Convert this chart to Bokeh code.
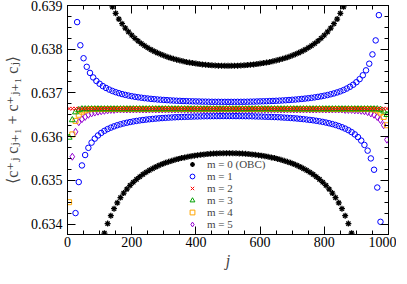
from bokeh.plotting import figure
from bokeh.models import (LinearAxis, FixedTicker, PrintfTickFormatter, Range1d,
                          Legend, LegendItem, CustomLabelingPolicy)
from bokeh.embed import file_html
from bokeh.resources import INLINE

# ---------------- data ----------------
j_obc = list(range(115, 890, 5))
obc = [
    0.63379, 0.63933, 0.63401, 0.63914, 0.63419, 0.63897, 0.63435, 0.63882, 0.634485, 0.63869,
    0.634604, 0.638583, 0.634708, 0.638484, 0.6348, 0.638397, 0.634883, 0.63832, 0.634956, 0.63825,
    0.635022, 0.638187, 0.635082, 0.63813, 0.635136, 0.63808, 0.635184, 0.638033, 0.635229, 0.63799,
    0.635269, 0.637952, 0.635306, 0.637917, 0.63534, 0.637884, 0.635371, 0.637855, 0.635399, 0.637828,
    0.635425, 0.637803, 0.635448, 0.637781, 0.63547, 0.63776, 0.63549, 0.637741, 0.635508, 0.637724,
    0.635524, 0.637708, 0.635539, 0.637694, 0.635552, 0.637682, 0.635564, 0.63767, 0.635575, 0.63766,
    0.635584, 0.637651, 0.635593, 0.637644, 0.6356, 0.637637, 0.635606, 0.637631, 0.635611, 0.637627,
    0.635615, 0.637623, 0.635618, 0.637621, 0.63562, 0.63762, 0.635621, 0.637619, 0.635621, 0.63762,
    0.63562, 0.637621, 0.635618, 0.637623, 0.635615, 0.637627, 0.635611, 0.637631, 0.635606, 0.637637,
    0.6356, 0.637644, 0.635593, 0.637651, 0.635584, 0.63766, 0.635575, 0.63767, 0.635564, 0.637682,
    0.635552, 0.637694, 0.635539, 0.637708, 0.635524, 0.637724, 0.635508, 0.637741, 0.63549, 0.63776,
    0.63547, 0.637781, 0.635448, 0.637803, 0.635425, 0.637828, 0.635399, 0.637855, 0.635371, 0.637884,
    0.63534, 0.637917, 0.635306, 0.637952, 0.635269, 0.63799, 0.635229, 0.638033, 0.635184, 0.63808,
    0.635136, 0.63813, 0.635082, 0.638187, 0.635022, 0.63825, 0.634956, 0.63832, 0.634883, 0.638397,
    0.6348, 0.638484, 0.634708, 0.638583, 0.634604, 0.63869, 0.634485, 0.63882, 0.63435, 0.63897,
    0.63419, 0.63914, 0.63401, 0.63933, 0.63379,
]

j_m1 = list(range(25, 980, 5))
m1 = [
    0.63425, 0.63862, 0.63496, 0.63809, 0.63534, 0.637793, 0.635579, 0.637597, 0.635743, 0.637458,
    0.635862, 0.637354, 0.635954, 0.637273, 0.636026, 0.637209, 0.636084, 0.637156, 0.636132, 0.637113,
    0.636172, 0.637076, 0.636205, 0.637044, 0.636234, 0.637017, 0.63626, 0.636994, 0.636282, 0.636973,
    0.636301, 0.636955, 0.636318, 0.636939, 0.636333, 0.636925, 0.636347, 0.636912, 0.636359, 0.6369,
    0.63637, 0.63689, 0.63638, 0.63688, 0.636389, 0.636872, 0.636397, 0.636864, 0.636405, 0.636857,
    0.636412, 0.63685, 0.636418, 0.636844, 0.636424, 0.636839, 0.636429, 0.636834, 0.636434, 0.636829,
    0.636438, 0.636825, 0.636442, 0.636821, 0.636446, 0.636818, 0.636449, 0.636814, 0.636452, 0.636812,
    0.636455, 0.636809, 0.636457, 0.636807, 0.63646, 0.636805, 0.636461, 0.636803, 0.636463, 0.636801,
    0.636465, 0.6368, 0.636466, 0.636798, 0.636467, 0.636797, 0.636468, 0.636796, 0.636469, 0.636796,
    0.636469, 0.636795, 0.63647, 0.636795, 0.63647, 0.636795, 0.63647, 0.636795, 0.63647, 0.636795,
    0.636469, 0.636796, 0.636469, 0.636796, 0.636468, 0.636797, 0.636467, 0.636798, 0.636466, 0.6368,
    0.636465, 0.636801, 0.636462, 0.636804, 0.63646, 0.636806, 0.636459, 0.636808, 0.636456, 0.63681,
    0.636454, 0.636813, 0.636451, 0.636816, 0.636447, 0.63682, 0.636444, 0.636823, 0.63644, 0.636827,
    0.636435, 0.636832, 0.636431, 0.636837, 0.636426, 0.636843, 0.63642, 0.636848, 0.636414, 0.636855,
    0.636407, 0.636862, 0.6364, 0.63687, 0.636391, 0.636878, 0.636382, 0.636887, 0.636373, 0.636898,
    0.636362, 0.636909, 0.63635, 0.636922, 0.636337, 0.636936, 0.636322, 0.636951, 0.636305, 0.636969,
    0.636287, 0.636988, 0.636266, 0.637011, 0.636242, 0.637036, 0.636214, 0.637065, 0.636183, 0.6371,
    0.636147, 0.637141, 0.636103, 0.637187, 0.636051, 0.637245, 0.635988, 0.637315, 0.635909, 0.637403,
    0.635809, 0.637516, 0.635679, 0.637668, 0.635501, 0.637881, 0.635242, 0.638201, 0.634835, 0.63878,
    0.63405,
]

j_m = list(range(5, 1000, 10))
m2 = [
    0.63664, 0.63664, 0.63664, 0.63664, 0.63664, 0.63664, 0.63664, 0.63664, 0.63664, 0.63664,
    0.63664, 0.63664, 0.63664, 0.63664, 0.63664, 0.63664, 0.63664, 0.63664, 0.63664, 0.63664,
    0.63664, 0.63664, 0.63664, 0.63664, 0.63664, 0.63664, 0.63664, 0.63664, 0.63664, 0.63664,
    0.63664, 0.63664, 0.63664, 0.63664, 0.63664, 0.63664, 0.63664, 0.63664, 0.63664, 0.63664,
    0.63664, 0.63664, 0.63664, 0.63664, 0.63664, 0.63664, 0.63664, 0.63664, 0.63664, 0.63664,
    0.63664, 0.63664, 0.63664, 0.63664, 0.63664, 0.63664, 0.63664, 0.63664, 0.63664, 0.63664,
    0.63664, 0.63664, 0.63664, 0.63664, 0.63664, 0.63664, 0.63664, 0.63664, 0.63664, 0.63664,
    0.63664, 0.63664, 0.63664, 0.63664, 0.63664, 0.63664, 0.63664, 0.63664, 0.63664, 0.63664,
    0.63664, 0.63664, 0.63664, 0.63664, 0.63664, 0.63664, 0.63664, 0.63664, 0.63664, 0.63664,
    0.63664, 0.63664, 0.63664, 0.63664, 0.63664, 0.63664, 0.63664, 0.63664, 0.63664, 0.63664,
]
m3 = [
    0.63598, 0.63638, 0.63656, 0.63661, 0.63663, 0.63663, 0.63663, 0.63663, 0.63663, 0.63663,
    0.63663, 0.63663, 0.63663, 0.63663, 0.63663, 0.63663, 0.63663, 0.63663, 0.63663, 0.63663,
    0.63663, 0.63663, 0.63663, 0.63663, 0.63663, 0.63663, 0.63663, 0.63663, 0.63663, 0.63663,
    0.63663, 0.63663, 0.63663, 0.63663, 0.63663, 0.63663, 0.63663, 0.63663, 0.63663, 0.63663,
    0.63663, 0.63663, 0.63663, 0.63663, 0.63663, 0.63663, 0.63663, 0.63663, 0.63663, 0.63663,
    0.63663, 0.63663, 0.63663, 0.63663, 0.63663, 0.63663, 0.63663, 0.63663, 0.63663, 0.63663,
    0.63663, 0.63663, 0.63663, 0.63663, 0.63663, 0.63663, 0.63663, 0.63663, 0.63663, 0.63663,
    0.63663, 0.63663, 0.63663, 0.63663, 0.63663, 0.63663, 0.63663, 0.63663, 0.63663, 0.63663,
    0.63663, 0.63663, 0.63663, 0.63663, 0.63663, 0.63663, 0.63663, 0.63663, 0.63663, 0.63663,
    0.63663, 0.63663, 0.63663, 0.63663, 0.63663, 0.63663, 0.63663, 0.63662, 0.63658, 0.6365,
]
m4 = [
    0.6345, 0.63605, 0.63636, 0.6365, 0.63657, 0.6366, 0.63662, 0.63663, 0.63663, 0.63663,
    0.63663, 0.63663, 0.63663, 0.63663, 0.63663, 0.63663, 0.63663, 0.63663, 0.63663, 0.63663,
    0.63663, 0.63663, 0.63663, 0.63663, 0.63663, 0.63663, 0.63663, 0.63663, 0.63663, 0.63663,
    0.63663, 0.63663, 0.63663, 0.63663, 0.63663, 0.63663, 0.63663, 0.63663, 0.63663, 0.63663,
    0.63663, 0.63663, 0.63663, 0.63663, 0.63663, 0.63663, 0.63663, 0.63663, 0.63663, 0.63663,
    0.63663, 0.63663, 0.63663, 0.63663, 0.63663, 0.63663, 0.63663, 0.63663, 0.63663, 0.63663,
    0.63663, 0.63663, 0.63663, 0.63663, 0.63663, 0.63663, 0.63663, 0.63663, 0.63663, 0.63663,
    0.63663, 0.63663, 0.63663, 0.63663, 0.63663, 0.63663, 0.63663, 0.63663, 0.63663, 0.63663,
    0.63663, 0.63663, 0.63663, 0.63663, 0.63663, 0.63663, 0.63663, 0.63663, 0.63663, 0.63663,
    0.63663, 0.63663, 0.63663, 0.63663, 0.63663, 0.63662, 0.6366, 0.63655, 0.63645, 0.63626,
]
m5 = [
    0.633, 0.63554, 0.63611, 0.63633, 0.6364, 0.63645, 0.6365, 0.63653, 0.63655, 0.63657,
    0.63658, 0.63659, 0.6366, 0.63661, 0.63661, 0.63662, 0.63662, 0.63662, 0.63662, 0.63662,
    0.63662, 0.63662, 0.63662, 0.63662, 0.63662, 0.63662, 0.63662, 0.63662, 0.63662, 0.63662,
    0.63662, 0.63662, 0.63662, 0.63662, 0.63662, 0.63662, 0.63662, 0.63662, 0.63662, 0.63662,
    0.63662, 0.63662, 0.63662, 0.63662, 0.63662, 0.63662, 0.63662, 0.63662, 0.63662, 0.63662,
    0.63662, 0.63662, 0.63662, 0.63662, 0.63662, 0.63662, 0.63662, 0.63662, 0.63662, 0.63662,
    0.63662, 0.63662, 0.63662, 0.63662, 0.63662, 0.63662, 0.63662, 0.63662, 0.63662, 0.63662,
    0.63662, 0.63662, 0.63662, 0.63662, 0.63662, 0.63662, 0.63662, 0.63662, 0.63662, 0.63662,
    0.63662, 0.63662, 0.63662, 0.63662, 0.63662, 0.63662, 0.63661, 0.63661, 0.63661, 0.6366,
    0.6366, 0.63659, 0.63658, 0.63656, 0.63653, 0.6365, 0.63645, 0.63638, 0.63626, 0.63593,
]

series_labels = ["m = 0 (OBC)", "m = 1", "m = 2", "m = 3", "m = 4", "m = 5"]
x_ticks = [0, 200, 400, 600, 800, 1000]
y_ticks = [0.634, 0.635, 0.636, 0.637, 0.638, 0.639]
x_label = "j"
y_label = "⟨c⁺ⱼ cⱼ₊₁ + c⁺ⱼ₊₁ cⱼ⟩"

assert len(obc) == len(j_obc) and len(m1) == len(j_m1)
assert all(len(s) == len(j_m) for s in (m2, m3, m4, m5))

# ---------------- figure ----------------
FONT = "Liberation Serif"
LABEL_FONT = "'Liberation Serif', 'DejaVu Serif', serif"
p = figure(frame_width=321, frame_height=229, output_backend="svg", toolbar_location=None,
           x_range=Range1d(0, 1000), y_range=Range1d(0.63376, 0.639),
           min_border_left=60, min_border_right=8, min_border_top=5,
           min_border_bottom=8)
p.background_fill_color = "white"
p.border_fill_color = "white"
p.outline_line_color = "black"
p.outline_line_width = 1
p.xgrid.visible = False
p.ygrid.visible = False

xt = FixedTicker(ticks=x_ticks, minor_ticks=list(range(0, 1001, 50)))
yt = FixedTicker(ticks=y_ticks, minor_ticks=[round(0.6335 + 0.00025 * k, 6) for k in range(23)])

NO_LABELS = """
for (const i of indices) { indices.unset(i) }
return indices
"""


def style_axis(ax, show_labels):
    ax.major_tick_in = 8
    ax.major_tick_out = 0
    ax.minor_tick_in = 4
    ax.minor_tick_out = 0
    ax.axis_line_color = "black"
    ax.major_tick_line_color = "black"
    ax.minor_tick_line_color = "black"
    if show_labels:
        ax.major_label_text_font = FONT
        ax.major_label_text_font_size = "14px"
        ax.major_label_text_color = "black"
        ax.major_label_text_line_height = 1.0
    else:
        ax.major_label_policy = CustomLabelingPolicy(code=NO_LABELS)
        ax.major_label_text_font_size = "0px"
        ax.major_label_standoff = 0


xa = p.xaxis[0]
xa.ticker = xt
style_axis(xa, True)
xa.major_label_standoff = 2
xa.axis_label = x_label
xa.axis_label_text_font = FONT
xa.axis_label_text_font_style = "italic"
xa.axis_label_text_font_size = "16px"
xa.axis_label_text_line_height = 1.0
xa.axis_label_standoff = 2

ya = p.yaxis[0]
ya.ticker = yt
ya.formatter = PrintfTickFormatter(format="%.3f")
style_axis(ya, True)
ya.major_label_standoff = 5
ya.axis_label = y_label
ya.axis_label_text_font = LABEL_FONT
ya.axis_label_text_font_style = "normal"
ya.axis_label_text_font_size = "16px"
ya.axis_label_text_line_height = 1.0
ya.axis_label_standoff = 7

top = LinearAxis(ticker=xt)
style_axis(top, False)
p.add_layout(top, "above")
right = LinearAxis(ticker=yt)
style_axis(right, False)
p.add_layout(right, "right")

r5 = p.scatter(j_m, m5, marker="diamond", size=7, line_color="#9400d3", fill_color=None,
               line_width=1)
r4 = p.scatter(j_m, m4, marker="square", size=5, line_color="#ffa500", fill_color=None,
               line_width=1)
r3 = p.scatter(j_m, m3, marker="triangle", size=6, line_color="#00a000", fill_color=None,
               line_width=1)
r2 = p.scatter(j_m, m2, marker="x", size=5, line_color="#ff0000", line_width=1)
r1 = p.scatter(j_m1, m1, marker="circle", size=5.5, line_color="#0000ff", fill_color=None,
               line_width=1)
r0 = p.scatter(j_obc, obc, marker="asterisk", size=6, line_color="black", line_width=1.3)

lg = Legend(items=[LegendItem(label=lab, renderers=[r])
                   for lab, r in zip(series_labels, [r0, r1, r2, r3, r4, r5])])
lg.location = (118, 4.5)
lg.padding = 0
lg.margin = 0
lg.spacing = 0
lg.glyph_width = 14
lg.glyph_height = 12
lg.label_height = 12
lg.label_standoff = 8
lg.label_text_font = FONT
lg.label_text_font_size = "11px"
lg.border_line_color = None
lg.background_fill_alpha = 0
p.add_layout(lg, "center")

open("out.html", "w").write(file_html(p, INLINE))
